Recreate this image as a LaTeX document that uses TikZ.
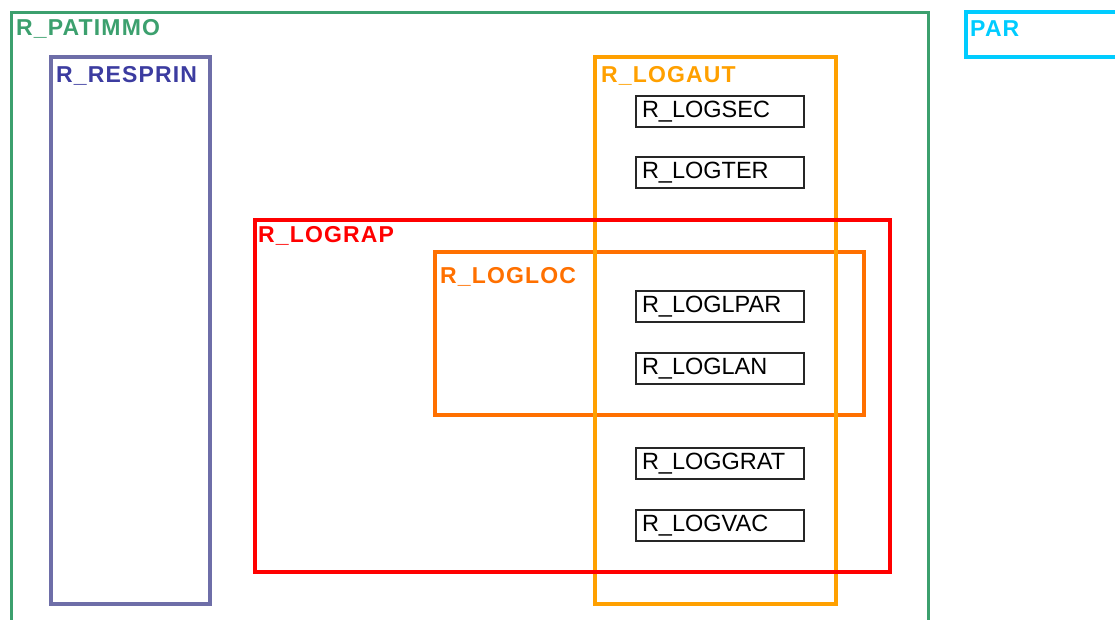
\documentclass[tikz,border=0pt]{standalone}
\usepackage{fontspec}
\setmainfont{Liberation Sans}
\newfontfamily\grpfont[LetterSpace=5]{Liberation Sans}
\definecolor{patgreen}{RGB}{60,160,110}
\definecolor{respurple}{RGB}{110,110,168}
\definecolor{restext}{RGB}{60,60,160}
\definecolor{autorange}{RGB}{255,160,0}
\definecolor{locorange}{RGB}{255,112,0}
\definecolor{parcyan}{RGB}{0,204,255}
\tikzset{
  grpbox/.style={line width=3.5pt},
  grplbl/.style={anchor=base west, inner sep=0pt, font=\grpfont\bfseries\fontsize{23}{23}\selectfont},
  leaf/.style={draw=black!85, line width=2pt, anchor=north west, minimum height=31pt,
    text width=156pt, inner xsep=6pt, inner ysep=0pt, align=left,
    font=\fontsize{23.5}{23.5}\selectfont}
}

\begin{document}
\begin{tikzpicture}[x=1pt,y=-1pt]
        \useasboundingbox (0,0) rectangle (1115,620);
        \clip (0,0) rectangle (1115,620);

        % Outer groups
        \draw[grpbox, patgreen, line width=3pt] (11,640) -- (11,13) -- (928,13) -- (928,640);
        \node[grplbl, patgreen] (patimmo) at (16,36) {R\_PATIMMO};

        \draw[grpbox, parcyan] (1130,12) -- (966,12) -- (966,57) -- (1130,57);
        \node[grplbl, parcyan] (par) at (970,37) {PAR};

        \draw[grpbox, respurple] (51,57) rectangle (210,604);
        \node[grplbl, restext] (resprin) at (56,83) {R\_RESPRIN};

        % Nested groups
        \draw[grpbox, locorange] (435,252) rectangle (864,415);
        \node[grplbl, locorange] (logloc) at (440,283) {R\_LOGLOC};

        \draw[grpbox, autorange] (595,57) rectangle (836,604);
        \node[grplbl, autorange] (logaut) at (601,83) {R\_LOGAUT};

        \draw[grpbox, red] (255,220) rectangle (890,572);
        \node[grplbl, red] (lograp) at (258,242) {R\_LOGRAP};

        % Leaf tables
        \node[leaf] (logsec) at (635,95) {R\_LOGSEC};
        \node[leaf] (logter) at (635,156) {R\_LOGTER};
        \node[leaf] (loglpar) at (635,290) {R\_LOGLPAR};
        \node[leaf] (loglan) at (635,352) {R\_LOGLAN};
        \node[leaf] (loggrat) at (635,447) {R\_LOGGRAT};
        \node[leaf] (logvac) at (635,509) {R\_LOGVAC};
\end{tikzpicture}
\end{document}
